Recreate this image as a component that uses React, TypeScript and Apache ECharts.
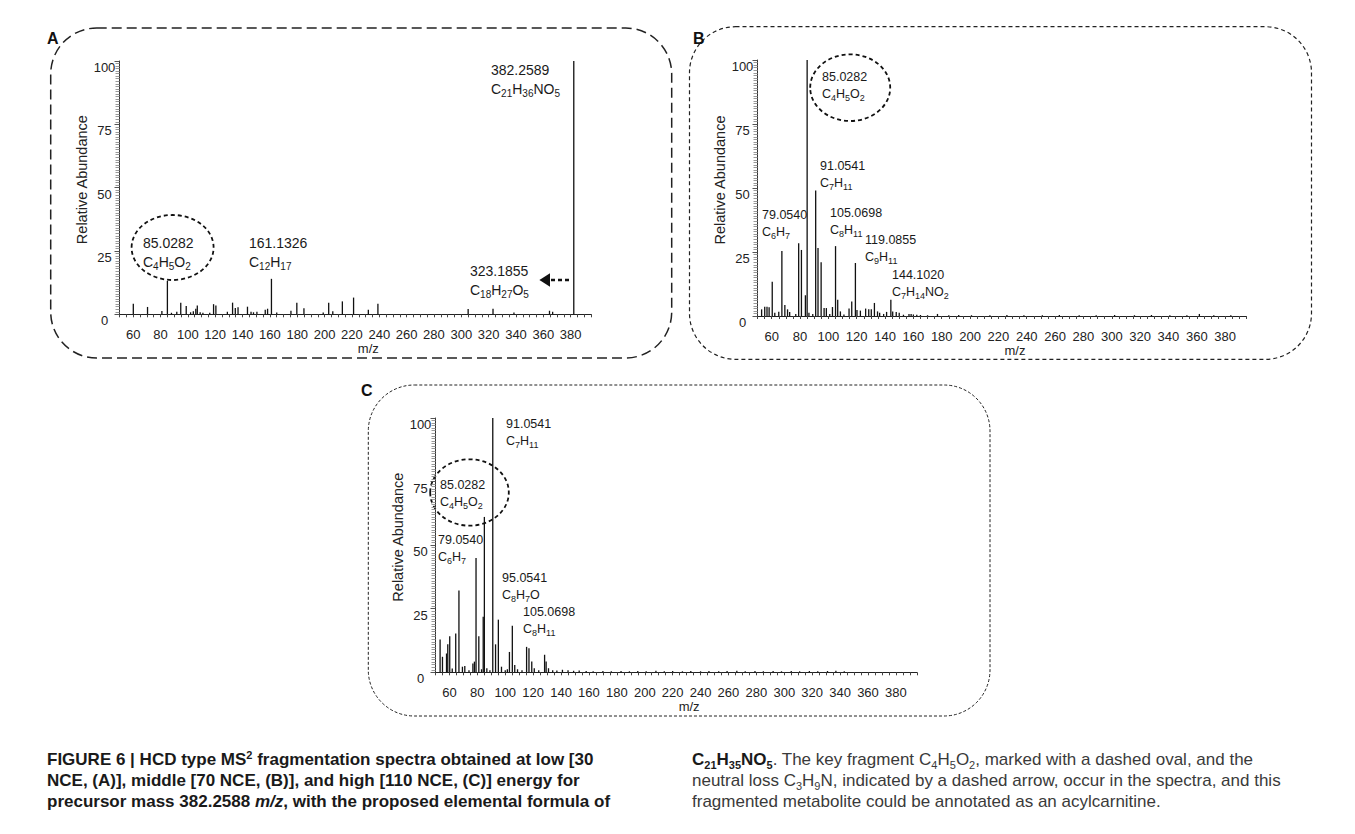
import React, { useEffect, useRef } from 'react';
import * as echarts from 'echarts';

const FONT = "'Liberation Sans', Arial, Helvetica, sans-serif";

// ---------- data ----------
const xLabelValues = [60, 80, 100, 120, 140, 160, 180, 200, 220, 240, 260, 280, 300, 320, 340, 360, 380];
const yTickValues = [0, 25, 50, 75, 100];

// Panel A (30 NCE) [m/z, relative abundance]
const peaksA: [number, number][] = [
  [60.1, 4.2], [70.5, 2.9], [81, 1.3], [85.0282, 13.2], [88, 0.6], [91.9, 1], [94.8, 4.6], [98.8, 3.3],
  [102, 0.8], [104, 1.2], [105.8, 2.2], [106.9, 3.5], [109, 0.8], [111, 0.6], [116, 0.6], [118.8, 4],
  [120.5, 3.5], [128.9, 1], [132.7, 4.6], [134.7, 2.5], [136.7, 2.8], [143.6, 3], [146.2, 1], [148, 0.8],
  [150.5, 1], [156.6, 1.8], [158.3, 2.2], [161.1326, 14], [165, 0.7], [175.4, 1.4], [179.7, 4.6],
  [184.9, 2.4], [199, 0.7], [203, 4.6], [206, 1.2], [213, 5.1], [221.2, 6.6], [232, 1.8], [239, 4.2],
  [305, 2.1], [323.1855, 2.2], [338.5, 0.7], [364.5, 1.4], [366.8, 1], [382.2589, 100],
];

// Panel B (70 NCE)
const peaksB: [number, number][] = [
  [52.9, 2.6], [55.1, 3.6], [56.7, 3.6], [58.2, 3.4], [60.4, 13.4], [62.2, 1.3], [65, 1.7], [67.2, 25.4],
  [69.3, 4.3], [71.2, 2.6], [72.7, 1.6], [77, 0.8], [79.054, 28.4], [81, 25.8], [83.8, 8.1], [85.0282, 100],
  [86.3, 1.3], [89, 0.8], [91.0541, 49], [92.7, 26.6], [94.9, 21], [97, 3.1], [98.6, 3.1], [101, 0.8],
  [102.9, 3.5], [105.0698, 27.3], [106.6, 6.3], [108.5, 1.8], [111, 0.6], [114.6, 2.9], [116.5, 5.7],
  [119.0855, 20.7], [120.2, 2.3], [122.6, 2.1], [126.3, 2.9], [128.5, 2.6], [130.3, 2.6], [132.5, 5.1],
  [134.7, 1.8], [136.2, 1.3], [139, 0.8], [141.1, 1.6], [144.102, 6.3], [145.4, 1.8], [147.9, 1.6],
  [150, 1.3], [153, 0.5], [156.9, 0.8], [158.4, 0.8], [160, 0.6], [162.4, 0.5], [165, 0.4], [170, 0.3],
  [177, 0.8], [185, 0.3], [192, 0.4], [201, 0.3], [214, 0.3], [226, 0.4], [238, 0.3], [251, 0.3],
  [263, 0.4], [277, 0.3], [289, 0.3], [302, 0.4], [316, 0.3], [328, 0.4], [341, 0.3], [353, 0.3],
  [361.8, 0.8], [372, 0.3], [384, 0.3],
];

// Panel C (110 NCE)
const peaksC: [number, number][] = [
  [53.3, 12.9], [55, 6.1], [57.9, 7.4], [58.8, 11], [60.2, 14.2], [62, 1.5], [64.5, 15.3], [66.8, 32.2],
  [69.3, 2.2], [71, 2.5], [74, 0.8], [76.8, 3.5], [77.9, 4.2], [79.054, 44.9], [81.05, 14.2], [83, 1.2],
  [84.2, 21.8], [85.0282, 61.1], [86.8, 1.6], [89, 0.8], [91.0541, 100], [93.05, 11], [95.0541, 20.7],
  [97.3, 2.2], [100, 0.8], [101.5, 1.2], [103, 8], [105.0698, 18.3], [106.8, 2.9], [108.8, 1.2], [112, 0.8],
  [115.3, 10], [117, 9.5], [119, 4.2], [120.8, 1.6], [124, 0.8], [128.2, 6.9], [129.3, 4.2], [131, 1.6],
  [134, 0.8], [137, 0.7], [141, 1], [145, 0.8], [149, 0.6], [153, 0.7], [158, 0.5], [163, 0.4], [170, 0.5],
  [176, 0.4], [183, 0.5], [189, 0.4], [195, 0.5], [201, 0.4], [208, 0.6], [214, 0.4], [220, 0.5], [227, 0.4],
  [233, 0.5], [240, 0.4], [246, 0.5], [253, 0.4], [259, 0.5], [266, 0.6], [272, 0.4], [279, 0.5], [285, 0.4],
  [292, 0.5], [298, 0.4], [305, 0.5], [311, 0.4], [318, 0.5], [324, 0.4], [331, 0.5], [337, 0.6], [343, 0.4],
];

// Annotations: m/z text, formula, label box (left, top)
const annA = [
  { mz: '382.2589', f: 'C21H36NO5', x: 491, y: 60 },
  { mz: '85.0282', f: 'C4H5O2', x: 143, y: 233 },
  { mz: '161.1326', f: 'C12H17', x: 249, y: 233 },
  { mz: '323.1855', f: 'C18H27O5', x: 470, y: 261 },
];
const annB = [
  { mz: '85.0282', f: 'C4H5O2', x: 822, y: 68 },
  { mz: '91.0541', f: 'C7H11', x: 820, y: 157 },
  { mz: '79.0540', f: 'C6H7', x: 762, y: 206 },
  { mz: '105.0698', f: 'C8H11', x: 830, y: 204 },
  { mz: '119.0855', f: 'C9H11', x: 865, y: 231 },
  { mz: '144.1020', f: 'C7H14NO2', x: 892, y: 266 },
];
const annC = [
  { mz: '91.0541', f: 'C7H11', x: 506, y: 415 },
  { mz: '85.0282', f: 'C4H5O2', x: 440, y: 476 },
  { mz: '79.0540', f: 'C6H7', x: 438, y: 531 },
  { mz: '95.0541', f: 'C8H7O', x: 502, y: 569 },
  { mz: '105.0698', f: 'C8H11', x: 523, y: 603 },
];

// ---------- helpers ----------
const formulaRich = (f: string, n = 'n', s = 's') =>
  f.replace(/([A-Z][a-z]?)(\d*)/g, (_m: string, el: string, d: string) => `{${n}|${el}}` + (d ? `{${s}|${d}}` : ''));

const annText = (a: { mz: string; f: string; x: number; y: number }, big: boolean) => ({
  type: 'text',
  silent: true,
  style: {
    x: a.x,
    y: a.y,
    text: `{n|${a.mz}}\n${formulaRich(a.f)}`,
    fill: '#1a1a1a',
    align: 'left',
    verticalAlign: 'top',
    rich: big
      ? {
          n: { fontSize: 14, fontFamily: FONT, lineHeight: 19, fill: '#1a1a1a' },
          s: { fontSize: 10, fontFamily: FONT, verticalAlign: 'bottom', fill: '#1a1a1a' },
        }
      : {
          n: { fontSize: 12.5, fontFamily: FONT, lineHeight: 17, fill: '#1a1a1a' },
          s: { fontSize: 9, fontFamily: FONT, verticalAlign: 'bottom', fill: '#1a1a1a' },
        },
  },
});

const xAxisCfg = (gridIndex: number) => ({
  type: 'value',
  gridIndex,
  min: 50,
  max: 395,
  interval: 5,
  name: 'm/z',
  nameLocation: 'middle',
  nameGap: 27,
  nameTextStyle: { fontSize: 13, fontFamily: FONT, color: '#222', padding: [0, 0, 0, 26] },
  axisLine: { onZero: false, lineStyle: { color: '#222', width: 1.2 } },
  axisTick: { show: true, length: 3, lineStyle: { color: '#444' } },
  axisLabel: {
    fontSize: 13,
    fontFamily: FONT,
    color: '#222',
    margin: 14,
    hideOverlap: false,
    formatter: (v: number) => (xLabelValues.indexOf(v) >= 0 ? String(v) : ''),
  },
  splitLine: { show: false },
});

const yAxisCfg = (gridIndex: number, nameGap: number) => ({
  type: 'value',
  gridIndex,
  min: yTickValues[0],
  max: yTickValues[yTickValues.length - 1],
  interval: 25,
  name: 'Relative Abundance',
  nameLocation: 'middle',
  nameGap,
  nameRotate: 90,
  nameTextStyle: { fontSize: 14.5, fontFamily: FONT, color: '#222', padding: [0, 0, 0, 16] },
  axisLine: { show: true, lineStyle: { color: '#333', width: 1 } },
  axisTick: { show: true, length: 5, lineStyle: { color: '#555' } },
  minorTick: { show: true, splitNumber: 25, length: 4, lineStyle: { color: '#999' } },
  axisLabel: { fontSize: 13, fontFamily: FONT, color: '#222', align: 'center', margin: 15, verticalAlign: 'top' },
  splitLine: { show: false },
});

const stickSeries = (data: [number, number][], idx: number) => ({
  type: 'custom',
  xAxisIndex: idx,
  yAxisIndex: idx,
  data,
  encode: { x: 0, y: 1 },
  silent: true,
  clip: false,
  renderItem: (_p: any, api: any) => {
    const x = api.value(0);
    const y = api.value(1);
    const a = api.coord([x, 0]);
    const b = api.coord([x, y]);
    return {
      type: 'line',
      shape: { x1: a[0], y1: a[1], x2: b[0], y2: b[1] },
      style: { stroke: '#111', lineWidth: 1.3 },
    };
  },
});

const box = (x: number, y: number, w: number, h: number, dash: number[], lw: number) => ({
  type: 'rect',
  silent: true,
  shape: { x, y, width: w, height: h, r: 46 },
  style: { fill: 'none', stroke: '#222', lineWidth: lw, lineDash: dash },
});

const panelLabel = (t: string, x: number, y: number) => ({
  type: 'text',
  silent: true,
  style: { x, y, text: t, fill: '#111', font: `bold 16px ${FONT}`, align: 'left', verticalAlign: 'top' },
});

const oval = (cx: number, cy: number, rx: number, ry: number) => ({
  type: 'ellipse',
  silent: true,
  shape: { cx, cy, rx, ry },
  style: { fill: 'none', stroke: '#111', lineWidth: 1.8, lineDash: [4, 3] },
});

// caption
const capRich = {
  b: { fontSize: 17, fontWeight: 'bold', fontFamily: FONT, lineHeight: 21, fill: '#1a1a1a' },
  bi: { fontSize: 17, fontWeight: 'bold', fontStyle: 'italic', fontFamily: FONT, lineHeight: 21, fill: '#1a1a1a' },
  bsup: { fontSize: 11, fontWeight: 'bold', fontFamily: FONT, verticalAlign: 'top', fill: '#1a1a1a' },
  bsub: { fontSize: 11, fontWeight: 'bold', fontFamily: FONT, verticalAlign: 'bottom', fill: '#1a1a1a' },
  n: { fontSize: 17, fontFamily: FONT, lineHeight: 21, fill: '#3a3a3a' },
  s: { fontSize: 11, fontFamily: FONT, verticalAlign: 'bottom', fill: '#3a3a3a' },
};
const capLeft = [
  '{b|FIGURE 6 | HCD type MS}{bsup|2}{b| fragmentation spectra obtained at low [30}',
  '{b|NCE, (A)], middle [70 NCE, (B)], and high [110 NCE, (C)] energy for}',
  '{b|precursor mass 382.2588 }{bi|m/z}{b|, with the proposed elemental formula of}',
];
const capRight = [
  formulaRich('C21H35NO5', 'b', 'bsub') + '{n|. The key fragment }' + formulaRich('C4H5O2') + '{n|, marked with a dashed oval, and the}',
  '{n|neutral loss }' + formulaRich('C3H9N') + '{n|, indicated by a dashed arrow, occur in the spectra, and this}',
  '{n|fragmented metabolite could be annotated as an acylcarnitine.}',
];
const capText = (lines: string[], x: number, y: number) => ({
  type: 'text',
  silent: true,
  style: { x, y, text: lines.join('\n'), rich: capRich, align: 'left', verticalAlign: 'top', fill: '#1a1a1a' },
});

export default function App() {
  const ref = useRef<HTMLDivElement>(null);
  useEffect(() => {
    document.body.style.margin = '0';
    if (!ref.current) return;
    const chart = echarts.init(ref.current, undefined, { renderer: 'svg' });
    chart.setOption({
      animation: false,
      backgroundColor: '#ffffff',
      grid: [
        { left: 119.5, top: 61, width: 471.7, height: 253.3 },
        { left: 757.5, top: 60, width: 488.9, height: 256 },
        { left: 435.5, top: 418, width: 481.3, height: 254.3 },
      ],
      xAxis: [xAxisCfg(0), xAxisCfg(1), xAxisCfg(2)],
      yAxis: [yAxisCfg(0, 26), yAxisCfg(1, 26), yAxisCfg(2, 25)],
      series: [stickSeries(peaksA, 0), stickSeries(peaksB, 1), stickSeries(peaksC, 2)],
      graphic: [
        box(50.7, 28, 621, 330, [10, 5], 1.5),
        box(689.5, 26.7, 622, 332.6, [4, 3], 1.2),
        box(368.3, 385, 621.7, 331, [3, 2], 1),
        panelLabel('A', 47, 30),
        panelLabel('B', 693, 30),
        panelLabel('C', 361, 382),
        oval(172.6, 247.5, 41, 32.5),
        oval(850.2, 87.7, 40, 33.3),
        oval(469.5, 492.5, 39.3, 33.2),
        // dashed arrow (neutral loss) in A
        {
          type: 'line',
          silent: true,
          shape: { x1: 569, y1: 280, x2: 548, y2: 280 },
          style: { stroke: '#111', lineWidth: 2.5, lineDash: [4, 3] },
        },
        {
          type: 'polygon',
          silent: true,
          shape: { points: [[539.4, 280], [550, 273.3], [550, 286.7]] },
          style: { fill: '#111' },
        },
        ...annA.map((a) => annText(a, true)),
        ...annB.map((a) => annText(a, false)),
        ...annC.map((a) => annText(a, false)),
        capText(capLeft, 47, 749),
        capText(capRight, 692, 749),
      ],
    });
    return () => chart.dispose();
  }, []);
  return <div ref={ref} style={{ width: 1355, height: 834 }} />;
}
